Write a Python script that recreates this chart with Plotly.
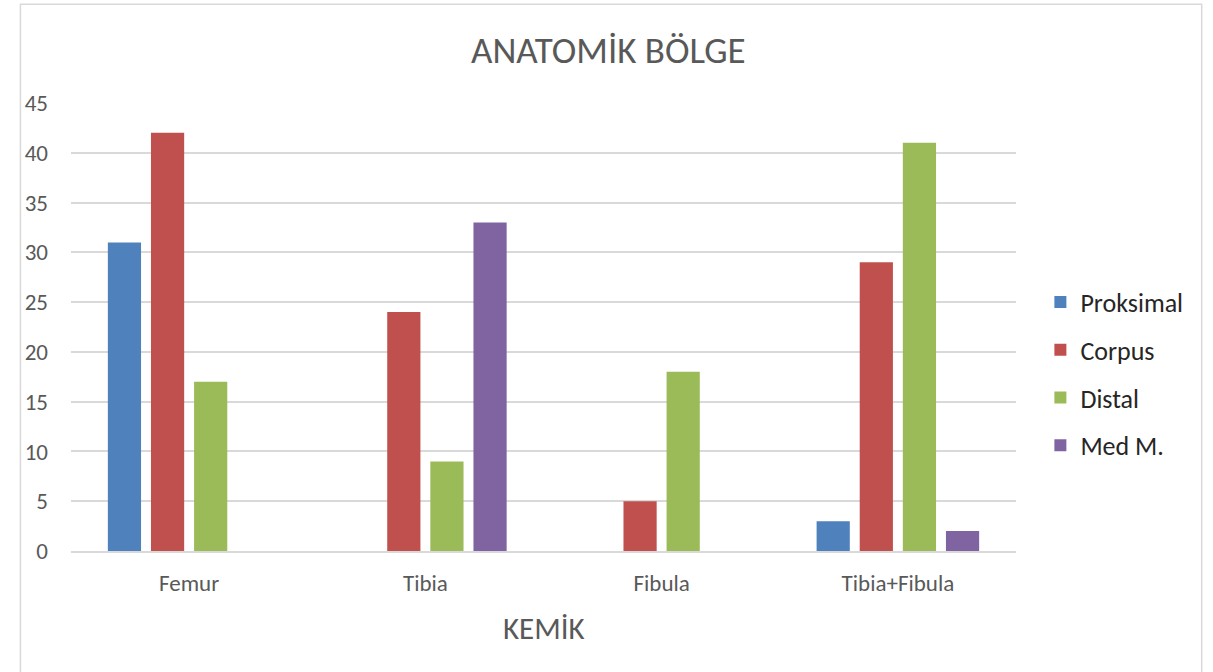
import plotly.graph_objects as go

# Bone categories and counts per anatomical region
categories = ["Femur", "Tibia", "Fibula", "Tibia+Fibula"]
proksimal = [31, 0, 0, 3]
corpus = [42, 24, 5, 29]
distal = [17, 9, 18, 41]
med_m = [0, 33, 0, 2]

series = [
    ("Proksimal", proksimal, "#4F81BD"),
    ("Corpus", corpus, "#C0504D"),
    ("Distal", distal, "#9BBB59"),
    ("Med M.", med_m, "#8064A2"),
]

FONT = "Carlito, Calibri, Lato, sans-serif"

fig = go.Figure()
for i, (name, vals, color) in enumerate(series):
    fig.add_trace(go.Bar(
        x=categories, y=vals, name=name,
        marker=dict(color=color, line=dict(width=0)),
        legendgroup=f"g{i}",
    ))

fig.update_layout(
    width=1213, height=672,
    margin=dict(l=71, r=197, t=103, b=121),
    paper_bgcolor="white", plot_bgcolor="white",
    barmode="group", bargap=0.27, bargroupgap=0.23,
    font=dict(family=FONT, color="#595959"),
    showlegend=True,
    legend=dict(
        x=1.0258, xanchor="left", y=0.395, yanchor="middle",
        font=dict(size=26, color="#262626", family=FONT),
        tracegroupgap=11, itemwidth=30,
        bgcolor="rgba(0,0,0,0)",
    ),
    annotations=[
        dict(text="ANATOMİK BÖLGE", xref="paper", yref="paper",
             x=0.569, y=1.0, yshift=53, xanchor="center", yanchor="middle",
             showarrow=False, font=dict(size=37, color="#595959", family=FONT)),
        dict(text="KEMİK", xref="paper", yref="paper",
             x=0.5, y=0, yshift=-77, xanchor="center", yanchor="middle",
             showarrow=False, font=dict(size=31, color="#595959", family=FONT)),
    ],
    shapes=[
        dict(type="rect", xref="paper", yref="paper",
             x0=-0.0535, x1=1.1965, y0=-0.28, y1=1.2205,
             line=dict(color="#D9D9D9", width=1.5), layer="below"),
    ],
)

fig.update_xaxes(
    showgrid=False, showline=True, linecolor="#D9D9D9", linewidth=1.5,
    ticks="", tickfont=dict(size=23, color="#595959"),
    ticklabelstandoff=11,
)
fig.update_yaxes(
    range=[0, 45], dtick=5, showgrid=True, gridcolor="#D9D9D9", gridwidth=1.5,
    zeroline=False, showline=False, ticks="",
    tickfont=dict(size=23, color="#595959"),
    ticklabelstandoff=22,
)

fig.write_html("out.html")
